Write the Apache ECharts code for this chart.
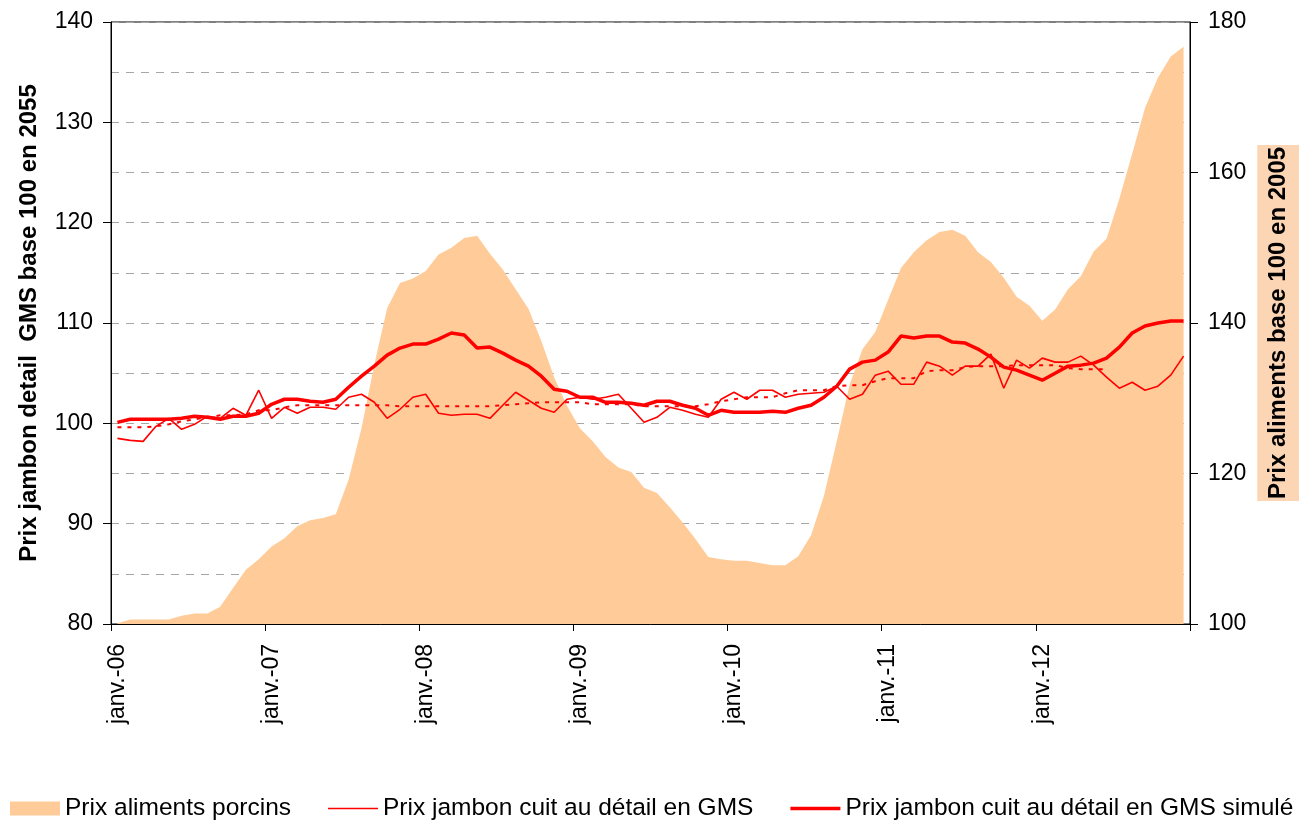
<!DOCTYPE html>
<html>
<head>
<meta charset="utf-8">
<script src="https://cdn.jsdelivr.net/npm/echarts@6/dist/echarts.min.js"></script>
<style>
html,body{margin:0;padding:0;background:#fff;}
#chart{width:1299px;height:822px;}
</style>
</head>
<body>
<div id="chart"></div>
<script>
// ---- data ----
const monthNames = ['janv.','févr.','mars','avr.','mai','juin','juil.','août','sept.','oct.','nov.','déc.'];
const years = ['06','07','08','09','10','11','12'];
const categories = [];
years.forEach(function (y) { monthNames.forEach(function (m) { categories.push(m + '-' + y); }); });

// Prix aliments porcins (right axis, base 100 en 2005)
const alimentsPorcins = [
  100.1,100.6,100.6,100.6,100.6,101.1,101.4,101.4,102.3,104.8,107.2,108.6,
  110.3,111.4,113.0,113.8,114.1,114.6,119.2,126.0,134.5,142.0,145.3,145.9,
  146.9,149.1,150.0,151.3,151.6,149.2,147.1,144.5,141.9,137.6,132.8,129.0,
  126.0,124.3,122.2,120.8,120.2,118.1,117.4,115.5,113.5,111.3,108.9,108.6,
  108.4,108.4,108.1,107.8,107.8,109.0,111.8,117.0,124.3,131.8,136.5,138.8,
  143.1,147.3,149.4,151.0,152.1,152.4,151.6,149.4,148.1,146.0,143.5,142.3,
  140.3,141.8,144.5,146.2,149.5,151.2,156.5,162.5,168.6,172.6,175.4,176.7
];
// Prix jambon cuit au détail en GMS (left axis)
const jambonGMS = [
  98.5,98.3,98.2,99.7,100.5,99.4,99.9,100.7,100.5,101.5,100.8,103.3,
  100.5,101.6,101.0,101.6,101.6,101.4,102.6,102.9,102.1,100.5,101.4,102.6,
  102.9,101.0,100.8,100.9,100.9,100.5,101.8,103.1,102.3,101.5,101.1,102.4,
  102.6,102.4,102.6,102.9,101.5,100.1,100.6,101.6,101.3,100.9,100.6,102.4,
  103.1,102.4,103.3,103.3,102.6,102.9,103.0,103.1,103.7,102.4,102.9,104.8,
  105.2,103.9,103.9,106.1,105.7,104.8,105.7,105.7,106.9,103.5,106.3,105.5,
  106.5,106.1,106.1,106.7,105.8,104.6,103.5,104.1,103.3,103.7,104.8,106.7
];
// Prix jambon cuit au détail en GMS simulé (left axis)
const jambonSimule = [
  100.1,100.4,100.4,100.4,100.4,100.5,100.7,100.6,100.4,100.7,100.7,101.0,
  101.9,102.4,102.4,102.2,102.1,102.4,103.6,104.7,105.7,106.8,107.5,107.9,
  107.9,108.4,109.0,108.8,107.5,107.6,107.0,106.3,105.7,104.7,103.4,103.2,
  102.6,102.6,102.1,102.1,102.0,101.8,102.2,102.2,101.8,101.5,100.8,101.3,
  101.1,101.1,101.1,101.2,101.1,101.5,101.8,102.6,103.7,105.4,106.1,106.3,
  107.1,108.7,108.5,108.7,108.7,108.1,108.0,107.4,106.6,105.6,105.3,104.8,
  104.3,105.0,105.7,105.8,106.0,106.5,107.6,109.0,109.7,110.0,110.2,110.2
];
// Tendance (dotted, not in legend)
const tendance = [
  99.6,99.6,99.6,99.7,99.9,100.2,100.4,100.6,100.8,100.8,100.9,101.3,
  101.3,101.6,101.8,101.8,101.8,101.8,101.8,101.8,101.8,101.8,101.7,101.7,
  101.7,101.7,101.7,101.7,101.7,101.7,101.8,101.9,102.0,102.1,102.1,102.1,
  102.1,101.9,101.9,101.9,101.9,101.7,101.7,101.7,101.7,101.7,101.9,102.2,
  102.4,102.6,102.6,102.6,103.0,103.3,103.3,103.3,103.7,103.8,103.8,104.2,
  104.5,104.5,104.5,105.2,105.3,105.3,105.6,105.7,105.7,105.7,105.8,105.8,
  105.8,105.8,105.5,105.4,105.4,105.4,null,null,null,null,null,null
];

const leftTitle = 'Prix jambon detail  GMS base 100 en 2055';
const rightTitle = 'Prix aliments base 100 en 2005';
const seriesNames = ['Prix aliments porcins','Prix jambon cuit au détail en GMS','Prix jambon cuit au détail en GMS simulé'];

// legend icons (thin / thick line), bounding box 50x14 kept by corner specks
const thinIcon = 'path://M0,0L0.05,0L0.05,0.05Z M0,6.2L50,6.2L50,7.8L0,7.8Z M49.95,14L50,14L50,13.95Z';
const thickIcon = 'path://M0,0L0.05,0L0.05,0.05Z M0,5.2L50,5.2L50,8.8L0,8.8Z M49.95,14L50,14L50,13.95Z';

// ---- chart ----
const FONT = "'Liberation Sans', Arial, sans-serif";
const chart = echarts.init(document.getElementById('chart'), null, {renderer: 'canvas'});
chart.setOption({
  animation: false,
  backgroundColor: '#ffffff',
  textStyle: {fontFamily: FONT, color: '#000'},
  grid: {left: 111, right: 109, top: 22, bottom: 198, outerBoundsMode: 'none', containLabel: false,
    show: true, borderColor: '#000', borderWidth: 1, backgroundColor: 'transparent'},
  legend: {
    left: 10, top: 796, width: 1289, padding: 0, itemGap: 37, itemWidth: 50, itemHeight: 14,
    textStyle: {fontFamily: FONT, fontSize: 24.5, color: '#000'},
    data: [
      {name: seriesNames[0], icon: 'rect'},
      {name: seriesNames[1], icon: thinIcon},
      {name: seriesNames[2], icon: thickIcon}
    ]
  },
  xAxis: {
    type: 'category', data: categories, boundaryGap: true, z: 5,
    axisLine: {lineStyle: {color: '#000', width: 1}},
    axisTick: {show: true, interval: 11, length: 7, lineStyle: {color: '#000'}},
    axisLabel: {interval: 11, rotate: 90, margin: 20, fontSize: 23, color: '#000', fontFamily: FONT},
    splitLine: {show: false}
  },
  yAxis: [
    {
      type: 'value', min: 80, max: 140, interval: 10, position: 'left',
      name: leftTitle, nameLocation: 'middle', nameRotate: 90, nameGap: 70,
      nameTextStyle: {fontFamily: FONT, fontSize: 24, fontWeight: 'bold', color: '#000'},
      axisLine: {show: true, lineStyle: {color: '#000', width: 1}},
      axisTick: {show: true, length: 8, lineStyle: {color: '#000'}},
      axisLabel: {margin: 18, fontSize: 23, color: '#000', fontFamily: FONT},
      splitLine: {show: true, lineStyle: {color: '#a6a6a6', width: 1, type: [8, 7]}},
      minorTick: {show: false, splitNumber: 2},
      minorSplitLine: {show: true, lineStyle: {color: '#a6a6a6', width: 1, type: [8, 7]}}
    },
    {
      type: 'value', min: 100, max: 180, interval: 20, position: 'right',
      name: rightTitle, nameLocation: 'middle', nameRotate: 90, nameGap: 55,
      nameTextStyle: {fontFamily: FONT, fontSize: 24, lineHeight: 26, fontWeight: 'bold', color: '#000',
        backgroundColor: '#fcd5b4', padding: [8, 2, 12, 2]},
      axisLine: {show: true, lineStyle: {color: '#000', width: 1}},
      axisTick: {show: true, length: 8, lineStyle: {color: '#000'}},
      axisLabel: {margin: 18, fontSize: 23, color: '#000', fontFamily: FONT},
      splitLine: {show: false}
    }
  ],
  series: [
    {
      name: seriesNames[0], type: 'line', yAxisIndex: 1, data: alimentsPorcins,
      symbol: 'none', color: '#ffcc99',
      lineStyle: {width: 0, color: '#ffcc99'},
      areaStyle: {color: '#ffcc99', opacity: 1, origin: 'start'},
      itemStyle: {color: '#ffcc99'}, z: 1
    },
    {
      name: seriesNames[1], type: 'line', yAxisIndex: 0, data: jambonGMS,
      symbol: 'none', color: '#ff0000', lineStyle: {width: 1.6, color: '#ff0000'}, z: 3
    },
    {
      name: seriesNames[2], type: 'line', yAxisIndex: 0, data: jambonSimule,
      symbol: 'none', color: '#ff0000', lineStyle: {width: 3.5, color: '#ff0000'}, z: 4
    },
    {
      name: 'Tendance', type: 'line', yAxisIndex: 0, data: tendance,
      symbol: 'none', color: '#ff0000', lineStyle: {width: 2, color: '#ff0000', type: [4, 6]}, z: 3
    }
  ]
});
</script>
</body>
</html>
